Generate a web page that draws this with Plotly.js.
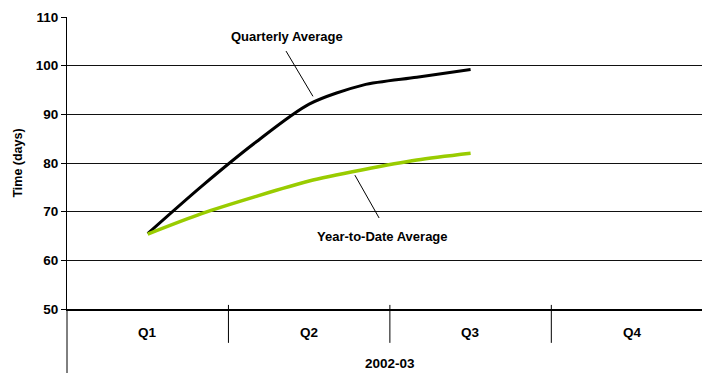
<!DOCTYPE html>
<html>
<head>
<meta charset="utf-8">
<script src="https://cdn.plot.ly/plotly-3.0.1.min.js"></script>
<style>html,body{margin:0;padding:0;background:#fff;}#chart{width:702px;height:373px;}</style>
</head>
<body>
<div id="chart"></div>
<script>
// Month position within fiscal year 2002-03 (0 = start of Q1)
const months = [1.5, 2.5, 3.5, 4.5, 5.5, 6.5, 7.5];
const quarterlyAvg = [65.5, 75.2, 84.2, 92.1, 96.0, 97.6, 99.2];
const ytdAvg = [65.4, 69.6, 73.1, 76.3, 78.6, 80.6, 82.0];
const quarters = ["Q1", "Q2", "Q3", "Q4"];
const quarterCenters = [1.5, 4.5, 7.5, 10.5];
const quarterBounds = [3, 6, 9];
const yearLabel = "2002-03";
const yTicks = [50, 60, 70, 80, 90, 100, 110];
const yTickText = ["50", "60", "70", "80", "90", "100", "110"];

const F = "Liberation Sans, Arial, sans-serif";

const traces = [
  {x: months, y: quarterlyAvg, mode: "lines", name: "Quarterly Average",
   line: {color: "#000000", width: 3, shape: "spline", smoothing: 0.8}},
  {x: months, y: ytdAvg, mode: "lines", name: "Year-to-Date Average",
   line: {color: "#99cc00", width: 3.5, shape: "spline", smoothing: 0.8}}
];

const shapes = [];
quarterBounds.forEach(b => shapes.push({type: "line", xref: "x", yref: "paper",
  x0: b, x1: b, y0: 0.014, y1: -0.116, line: {color: "#000", width: 1}}));
// y-axis extension down through the category area
shapes.push({type: "line", xref: "paper", yref: "paper", x0: 0, x1: 0, y0: 0, y1: -0.23,
  line: {color: "#000", width: 1}});
// leader lines
shapes.push({type: "line", xref: "x", yref: "y", x0: 4.07, y0: 103.0, x1: 4.57, y1: 93.7,
  line: {color: "#000", width: 1}});
shapes.push({type: "line", xref: "x", yref: "y", x0: 5.35, y0: 77.5, x1: 5.80, y1: 68.7,
  line: {color: "#000", width: 1}});

const annotations = [];
quarters.forEach((q, i) => annotations.push({x: quarterCenters[i], xref: "x", y: -0.082, yref: "paper",
  text: "<b>" + q + "</b>", showarrow: false, xanchor: "center", yanchor: "middle",
  font: {family: F, size: 13.5, color: "#000"}}));
annotations.push({x: 6, xref: "x", y: -0.188, yref: "paper", text: "<b>" + yearLabel + "</b>",
  showarrow: false, xanchor: "center", yanchor: "middle", font: {family: F, size: 13.5, color: "#000"}});
annotations.push({x: 4.08, xref: "x", y: 106.0, yref: "y", text: "<b>Quarterly Average</b>",
  showarrow: false, xanchor: "center", yanchor: "middle", font: {family: F, size: 13, color: "#000"}});
annotations.push({x: 5.86, xref: "x", y: 64.8, yref: "y", text: "<b>Year-to-Date Average</b>",
  showarrow: false, xanchor: "center", yanchor: "middle", font: {family: F, size: 13, color: "#000"}});

const layout = {
  width: 702, height: 373,
  margin: {l: 67, r: 0, t: 17, b: 64, pad: 0},
  paper_bgcolor: "#fff", plot_bgcolor: "#fff",
  showlegend: false,
  xaxis: {range: [0, 11.8], showgrid: false, zeroline: false, showticklabels: false,
    ticks: "", showline: true, linecolor: "#000", linewidth: 1.5, fixedrange: true},
  yaxis: {range: [50, 110], tickvals: yTicks, ticktext: yTickText.map(t => "<b>" + t + "</b>"),
    ticks: "outside", ticklen: 5, tickcolor: "#000",
    showline: true, linecolor: "#000", linewidth: 1, showgrid: true, gridcolor: "#111", gridwidth: 1,
    zeroline: false, tickfont: {family: F, size: 13.5, color: "#000"},
    title: {text: "<b>Time (days)</b>", font: {family: F, size: 12.5, color: "#000"}, standoff: 10}},
  shapes: shapes,
  annotations: annotations
};

Plotly.newPlot("chart", traces, layout, {staticPlot: true, displayModeBar: false});
</script>
</body>
</html>
